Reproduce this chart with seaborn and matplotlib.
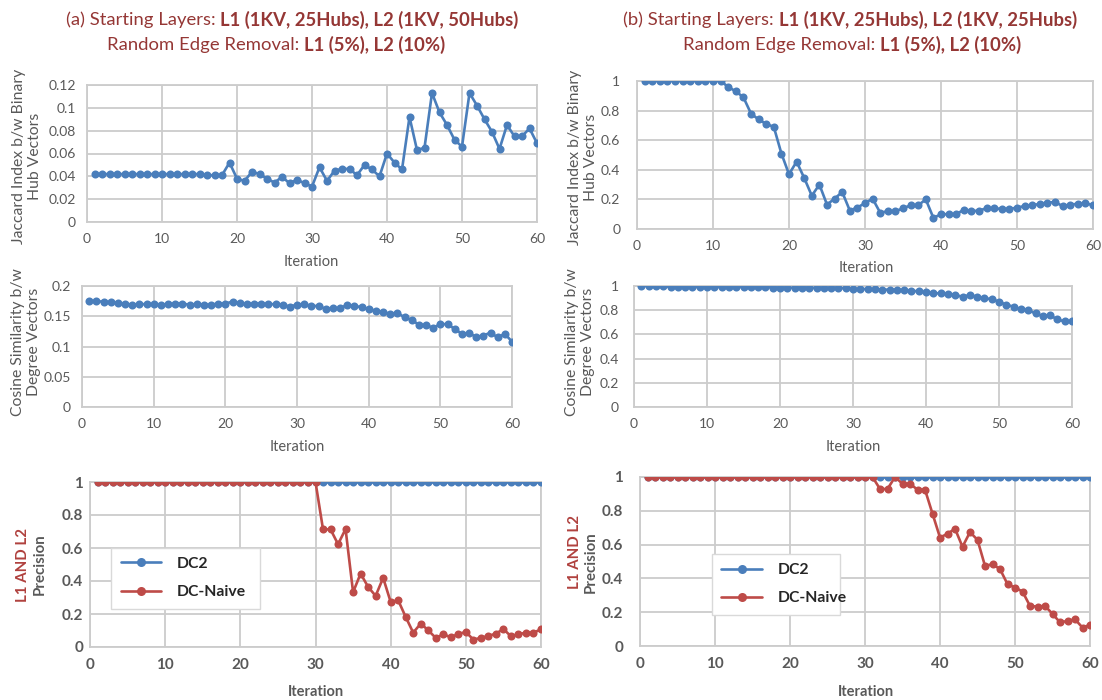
import numpy as np
import pandas as pd
import matplotlib
matplotlib.use("Agg")
import matplotlib.pyplot as plt
from matplotlib.lines import Line2D
from matplotlib.ticker import FixedLocator, FuncFormatter
import seaborn as sns

# ---------------- data ----------------
iterations = list(range(1, 61))

jaccard_a = [0.042, 0.042, 0.042, 0.042, 0.042, 0.042, 0.042, 0.042, 0.042, 0.042,
             0.042, 0.042, 0.042, 0.042, 0.042, 0.041, 0.041, 0.041, 0.052, 0.038,
             0.036, 0.044, 0.042, 0.038, 0.0345, 0.0395, 0.034, 0.037, 0.034, 0.031,
             0.048, 0.036, 0.045, 0.0465, 0.0465, 0.041, 0.050, 0.046, 0.040, 0.060,
             0.052, 0.046, 0.092, 0.063, 0.065, 0.113, 0.096, 0.085, 0.072, 0.066,
             0.113, 0.102, 0.090, 0.079, 0.064, 0.085, 0.075, 0.075, 0.082, 0.069]

jaccard_b = [1.0, 1.0, 1.0, 1.0, 1.0, 1.0, 1.0, 1.0, 1.0, 1.0,
             1.0, 0.96, 0.93, 0.89, 0.78, 0.74, 0.71, 0.69, 0.51, 0.37,
             0.455, 0.345, 0.225, 0.30, 0.165, 0.205, 0.25, 0.125, 0.145, 0.175,
             0.205, 0.11, 0.12, 0.12, 0.14, 0.16, 0.16, 0.20, 0.075, 0.10,
             0.10, 0.10, 0.13, 0.12, 0.125, 0.14, 0.14, 0.135, 0.135, 0.145,
             0.155, 0.16, 0.17, 0.178, 0.182, 0.155, 0.165, 0.17, 0.175, 0.16]

cosine_a = [0.175, 0.175, 0.174, 0.173, 0.172, 0.171, 0.169, 0.170, 0.170, 0.170,
            0.169, 0.170, 0.171, 0.171, 0.169, 0.170, 0.169, 0.169, 0.171, 0.171,
            0.174, 0.172, 0.170, 0.171, 0.171, 0.170, 0.170, 0.169, 0.166, 0.169,
            0.170, 0.167, 0.167, 0.162, 0.163, 0.163, 0.169, 0.167, 0.165, 0.162,
            0.159, 0.157, 0.154, 0.156, 0.148, 0.144, 0.136, 0.135, 0.131, 0.137,
            0.137, 0.129, 0.121, 0.122, 0.116, 0.118, 0.123, 0.115, 0.121, 0.108]

cosine_b = [1.0, 1.0, 1.0, 1.0, 0.992, 0.992, 0.992, 0.992, 0.992, 0.992,
            0.992, 0.992, 0.992, 0.992, 0.992, 0.992, 0.992, 0.992, 0.986, 0.986,
            0.986, 0.986, 0.986, 0.986, 0.984, 0.982, 0.982, 0.982, 0.982, 0.976,
            0.975, 0.975, 0.972, 0.97, 0.97, 0.968, 0.965, 0.962, 0.955, 0.948,
            0.94, 0.94, 0.934, 0.925, 0.912, 0.925, 0.912, 0.898, 0.892, 0.870,
            0.845, 0.829, 0.807, 0.801, 0.773, 0.751, 0.757, 0.724, 0.707, 0.707]

dc2_a = [1.0, 1.0, 1.0, 1.0, 1.0, 1.0, 1.0, 1.0, 1.0, 1.0,
         1.0, 1.0, 1.0, 1.0, 1.0, 1.0, 1.0, 1.0, 1.0, 1.0,
         1.0, 1.0, 1.0, 1.0, 1.0, 1.0, 1.0, 1.0, 1.0, 1.0,
         1.0, 1.0, 1.0, 1.0, 1.0, 1.0, 1.0, 1.0, 1.0, 1.0,
         1.0, 1.0, 1.0, 1.0, 1.0, 1.0, 1.0, 1.0, 1.0, 1.0,
         1.0, 1.0, 1.0, 1.0, 1.0, 1.0, 1.0, 1.0, 1.0, 1.0]

naive_a = [1.0, 1.0, 1.0, 1.0, 1.0, 1.0, 1.0, 1.0, 1.0, 1.0,
           1.0, 1.0, 1.0, 1.0, 1.0, 1.0, 1.0, 1.0, 1.0, 1.0,
           1.0, 1.0, 1.0, 1.0, 1.0, 1.0, 1.0, 1.0, 1.0, 1.0,
           0.713, 0.713, 0.623, 0.715, 0.332, 0.445, 0.364, 0.31, 0.419, 0.273,
           0.283, 0.182, 0.087, 0.142, 0.101, 0.055, 0.077, 0.059, 0.079, 0.091,
           0.045, 0.055, 0.067, 0.081, 0.109, 0.065, 0.077, 0.087, 0.087, 0.107]

dc2_b = [1.0, 1.0, 1.0, 1.0, 1.0, 1.0, 1.0, 1.0, 1.0, 1.0,
         1.0, 1.0, 1.0, 1.0, 1.0, 1.0, 1.0, 1.0, 1.0, 1.0,
         1.0, 1.0, 1.0, 1.0, 1.0, 1.0, 1.0, 1.0, 1.0, 1.0,
         1.0, 1.0, 1.0, 1.0, 1.0, 1.0, 1.0, 1.0, 1.0, 1.0,
         1.0, 1.0, 1.0, 1.0, 1.0, 1.0, 1.0, 1.0, 1.0, 1.0,
         1.0, 1.0, 1.0, 1.0, 1.0, 1.0, 1.0, 1.0, 1.0, 1.0]

naive_b = [1.0, 1.0, 1.0, 1.0, 1.0, 1.0, 1.0, 1.0, 1.0, 1.0,
           1.0, 1.0, 1.0, 1.0, 1.0, 1.0, 1.0, 1.0, 1.0, 1.0,
           1.0, 1.0, 1.0, 1.0, 1.0, 1.0, 1.0, 1.0, 1.0, 1.0,
           1.0, 0.929, 0.929, 1.0, 0.96, 0.96, 0.925, 0.925, 0.783, 0.642,
           0.664, 0.694, 0.587, 0.674, 0.628, 0.474, 0.484, 0.455, 0.366, 0.346,
           0.322, 0.237, 0.233, 0.237, 0.19, 0.14, 0.148, 0.158, 0.109, 0.125]

x_ticks = [0, 10, 20, 30, 40, 50, 60]
jaccard_a_ticks = [0, 0.02, 0.04, 0.06, 0.08, 0.1, 0.12]
cosine_a_ticks = [0, 0.05, 0.1, 0.15, 0.2]
unit_ticks = [0, 0.2, 0.4, 0.6, 0.8, 1]

series_names = ["DC2", "DC-Naive"]

# ---------------- style ----------------
sns.set_style("white")
plt.rcParams["font.family"] = ["Lato", "DejaVu Sans"]

BLUE = "#4A7EBB"
RED = "#BE4B48"
GRID = "#CCCCCC"
TICK_GRAY = "#595959"
TITLE_RED = "#953735"
LABEL_RED = "#B0413E"

W, H = 1102, 700
fig = plt.figure(figsize=(W / 100, H / 100), dpi=100)


def add_axes_px(left, top, right, bottom):
    return fig.add_axes([left / W, 1 - bottom / H, (right - left) / W, (bottom - top) / H])


def style_axes(ax, yticks, ymax, bold=False, tick_size=10, ypad=7, xpad=7):
    ax.set_xlim(0, 60)
    ax.set_ylim(0, ymax)
    ax.xaxis.set_major_locator(FixedLocator(x_ticks))
    ax.yaxis.set_major_locator(FixedLocator(yticks))
    ax.yaxis.set_major_formatter(FuncFormatter(lambda v, p: f"{v:g}"))
    ax.grid(True, color=GRID, linewidth=1.3)
    ax.set_axisbelow(True)
    for s in ax.spines.values():
        s.set_color(GRID)
        s.set_linewidth(1.3)
    weight = "bold" if bold else "normal"
    ax.tick_params(axis="both", length=0, labelcolor=TICK_GRAY, labelsize=tick_size)
    ax.tick_params(axis="y", pad=ypad)
    ax.tick_params(axis="x", pad=xpad)
    for lbl in ax.get_xticklabels() + ax.get_yticklabels():
        lbl.set_fontweight(weight)
    ax.set_xlabel("")
    ax.set_ylabel("")


def draw_series(ax, values, color, zorder=3):
    sns.lineplot(x=iterations, y=values, ax=ax, color=color, marker="o",
                 markersize=5.8, markeredgewidth=0, linewidth=1.9, zorder=zorder,
                 legend=False)


def fig_text_px(x, y, s, **kw):
    return fig.text(x / W, 1 - y / H, s, **kw)


# ---------------- panels ----------------
ax_a1 = add_axes_px(87, 85, 537, 222)
draw_series(ax_a1, jaccard_a, BLUE)
style_axes(ax_a1, jaccard_a_ticks, 0.12, xpad=8, ypad=8)

ax_b1 = add_axes_px(637, 81, 1093, 229)
draw_series(ax_b1, jaccard_b, BLUE)
style_axes(ax_b1, unit_ticks, 1.0, xpad=8, ypad=12)

ax_a2 = add_axes_px(82, 286, 512, 407)
draw_series(ax_a2, cosine_a, BLUE)
style_axes(ax_a2, cosine_a_ticks, 0.2, xpad=8, ypad=8)

ax_b2 = add_axes_px(634, 286, 1072, 407)
draw_series(ax_b2, cosine_b, BLUE)
style_axes(ax_b2, unit_ticks, 1.0, xpad=8, ypad=11)

ax_a3 = add_axes_px(90, 482, 541, 647)
draw_series(ax_a3, dc2_a, BLUE, zorder=3)
draw_series(ax_a3, naive_a, RED, zorder=4)
style_axes(ax_a3, unit_ticks, 1.0, bold=True, tick_size=11, xpad=8, ypad=5)

ax_b3 = add_axes_px(640, 477, 1090, 646)
draw_series(ax_b3, dc2_b, BLUE, zorder=3)
draw_series(ax_b3, naive_b, RED, zorder=4)
style_axes(ax_b3, unit_ticks, 1.0, bold=True, tick_size=11, xpad=8, ypad=12)

# ---------------- axis titles ----------------
lab = dict(color=TICK_GRAY, fontsize=10.5, ha="center", va="center")
fig_text_px(311, 262, "Iteration", **lab)
fig_text_px(866, 268, "Iteration", **lab)
fig_text_px(297, 447, "Iteration", **lab)
fig_text_px(853, 447, "Iteration", **lab)
fig_text_px(316, 692, "Iteration", fontweight="bold", **lab)
fig_text_px(866, 692, "Iteration", fontweight="bold", **lab)

ylab = dict(color=TICK_GRAY, fontsize=11.3, ha="center", va="center", rotation=90,
            multialignment="center", linespacing=1.25)
fig_text_px(27, 156, "Jaccard Index b/w Binary\nHub Vectors", **ylab)
fig_text_px(583, 157, "Jaccard Index b/w Binary\nHub Vectors", **ylab)
fig_text_px(26, 342, "Cosine Similarity b/w\nDegree Vectors", **ylab)
fig_text_px(580, 342, "Cosine Similarity b/w\nDegree Vectors", **ylab)

yb = dict(fontsize=10.8, fontweight="bold", ha="center", va="center", rotation=90)
fig_text_px(23, 565, "L1 AND L2", color=LABEL_RED, **yb)
fig_text_px(40, 564, "Precision", color=TICK_GRAY, **yb)
fig_text_px(575, 552, "L1 AND L2", color=LABEL_RED, **yb)
fig_text_px(591, 562, "Precision", color=TICK_GRAY, **yb)

# ---------------- legends ----------------
handles = [Line2D([], [], color=BLUE, marker="o", markersize=6.5, markeredgewidth=0, linewidth=1.9),
           Line2D([], [], color=RED, marker="o", markersize=6.5, markeredgewidth=0, linewidth=1.9)]
for ax, anchor in [(ax_a3, (0.047, 0.206, 0.33, 0.424)), (ax_b3, (0.16, 0.183, 0.284, 0.367))]:
    leg = ax.legend(handles, series_names, loc="center", bbox_to_anchor=anchor, mode="expand",
                    frameon=True, fancybox=False, edgecolor="#D9D9D9", framealpha=1,
                    prop={"weight": "bold", "size": 11.3}, handlelength=2.6,
                    labelspacing=0.9, borderpad=0.6, handletextpad=1.0, borderaxespad=0)
    leg.get_frame().set_linewidth(1.0)
    leg.set_zorder(10)

# ---------------- titles with mixed weights ----------------
renderer = fig.canvas.get_renderer()


def rich_line(xc, y, parts, size=13.3):
    texts = []
    for s, w in parts:
        t = fig_text_px(0, y, s, fontsize=size, fontweight=w, color=TITLE_RED,
                        ha="left", va="center")
        texts.append(t)
    gap = size * 100 / 72 * 0.26
    widths = [t.get_window_extent(renderer).width for t in texts]
    total = sum(widths) + gap * (len(texts) - 1)
    x = xc - total / 2
    for t, w in zip(texts, widths):
        t.set_position((x / W, 1 - y / H))
        x += w + gap


rich_line(292, 20, [("(a) Starting Layers:", "normal"), ("L1 (1KV, 25Hubs), L2 (1KV, 50Hubs)", "bold")])
rich_line(276, 45, [("Random Edge Removal:", "normal"), ("L1 (5%), L2 (10%)", "bold")])
rich_line(850, 20, [("(b) Starting Layers:", "normal"), ("L1 (1KV, 25Hubs), L2 (1KV, 25Hubs)", "bold")])
rich_line(852, 45, [("Random Edge Removal:", "normal"), ("L1 (5%), L2 (10%)", "bold")])

fig.savefig("out.png", dpi=100, facecolor="white")
